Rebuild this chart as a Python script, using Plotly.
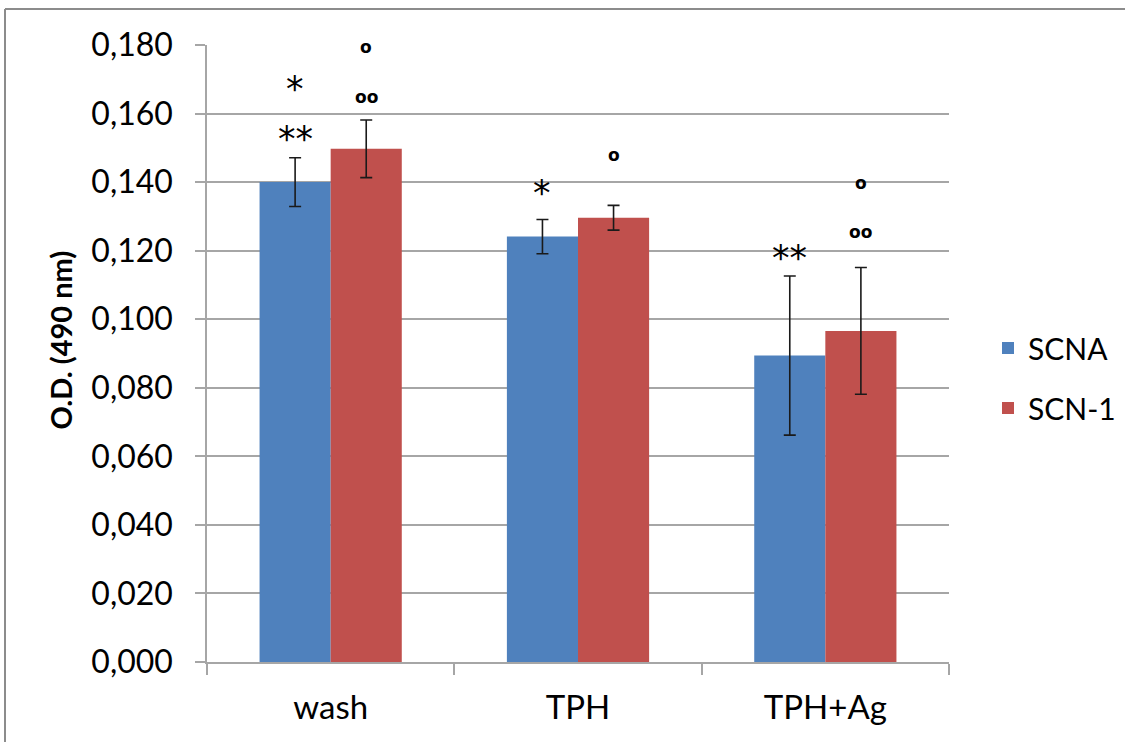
import plotly.graph_objects as go

categories = ["wash", "TPH", "TPH+Ag"]
series_names = ["SCNA", "SCN-1"]
scna_values = [0.1400, 0.1241, 0.0894]
scna_errors = [0.0071, 0.0050, 0.0232]
scn1_values = [0.1497, 0.1296, 0.0966]
scn1_errors = [0.0084, 0.0036, 0.0185]
colors = ["#4F81BD", "#C0504D"]

y_ticks = [0.000, 0.020, 0.040, 0.060, 0.080, 0.100, 0.120, 0.140, 0.160, 0.180]
y_title = "O.D. (490 nm)"

# significance marks: category, series index, text, value level
sig_cat = ["wash", "wash", "wash", "wash", "TPH", "TPH", "TPH+Ag", "TPH+Ag", "TPH+Ag"]
sig_series = [0, 0, 1, 1, 0, 1, 0, 1, 1]
sig_text = ["*", "**", "o", "oo", "*", "o", "**", "oo", "o"]
sig_level = [0.1689, 0.1543, 0.1788, 0.1642, 0.1387, 0.1474, 0.1197, 0.1248, 0.1392]

FONT = "Lato"
BARGAP = 0.425

fig = go.Figure()
for name, vals, errs, col in zip(series_names, [scna_values, scn1_values],
                                 [scna_errors, scn1_errors], colors):
    fig.add_trace(go.Bar(
        x=categories, y=vals, name=name, marker_color=col,
        marker_line_width=0, legendgroup=name,
        error_y=dict(type="data", array=errs, visible=True,
                     color="#1a1a1a", thickness=1.6, width=6),
    ))

offset = (1 - BARGAP) / 4
annotations = []
for c, s, t, lv in zip(sig_cat, sig_series, sig_text, sig_level):
    xi = categories.index(c) + (-offset if s == 0 else offset)
    if "*" in t:
        annotations.append(dict(x=xi, y=lv, xref="x", yref="y", text=t,
                                showarrow=False, yanchor="middle", yshift=-6,
                                font=dict(family="DejaVu Sans", size=35, color="#000")))
    else:
        annotations.append(dict(x=xi, y=lv, xref="x", yref="y", text="<b>" + t + "</b>",
                                showarrow=False, yanchor="middle", yshift=2,
                                font=dict(family="DejaVu Sans", size=17, color="#000")))

# outer frame (left and top) in paper coordinates
L, T, B, R = 207, 45, 662, 949
def px_x(p):
    return (p - L) / (R - L)
def px_y(p):
    return (B - p) / (B - T)

# y-axis title as a rotated annotation
annotations.append(dict(x=px_x(60), y=0.5, xref="paper", yref="paper",
                        text="<b>" + y_title + "</b>", textangle=-90, showarrow=False,
                        xanchor="center", yanchor="middle", yshift=13,
                        font=dict(family=FONT, size=29, color="#000")))

shapes = [
    dict(type="line", xref="paper", yref="paper", x0=px_x(5), x1=px_x(5),
         y0=px_y(9), y1=px_y(745), line=dict(color="#8c8c8c", width=2)),
    dict(type="line", xref="paper", yref="paper", x0=px_x(5), x1=px_x(1130),
         y0=px_y(9), y1=px_y(9), line=dict(color="#8c8c8c", width=2)),
]

fig.update_layout(
    width=1125, height=742,
    margin=dict(l=L, r=1125 - R, t=T, b=742 - B, autoexpand=False),
    paper_bgcolor="white", plot_bgcolor="white",
    barmode="group", bargap=BARGAP, bargroupgap=0,
    separators=",.",
    font=dict(family=FONT, color="#000"),
    showlegend=True,
    legend=dict(x=px_x(988), y=px_y(378), xanchor="left", yanchor="middle",
                font=dict(family=FONT, size=30, color="#000"),
                tracegroupgap=18, bgcolor="rgba(0,0,0,0)"),
    annotations=annotations,
    shapes=shapes,
)
fig.update_yaxes(
    range=[0, 0.18], tickvals=y_ticks, tickformat=".3f",
    tickfont=dict(family=FONT, size=32, color="#000"),
    showgrid=True, gridcolor="#a6a6a6", gridwidth=1.5,
    showline=True, linecolor="#a6a6a6", linewidth=1.5,
    ticks="outside", ticklen=10, tickcolor="#a6a6a6", tickwidth=1.5,
    zeroline=False, ticklabelstandoff=16,
)
fig.update_xaxes(
    tickfont=dict(family=FONT, size=33, color="#000"),
    showline=True, linecolor="#a6a6a6", linewidth=1.5,
    ticks="outside", tickson="boundaries", ticklen=11, tickcolor="#a6a6a6", tickwidth=1.5,
    showgrid=False, ticklabelstandoff=16,
)

fig.write_html("out.html", config={"displayModeBar": False},
               post_script="document.body.style.margin='0';")
